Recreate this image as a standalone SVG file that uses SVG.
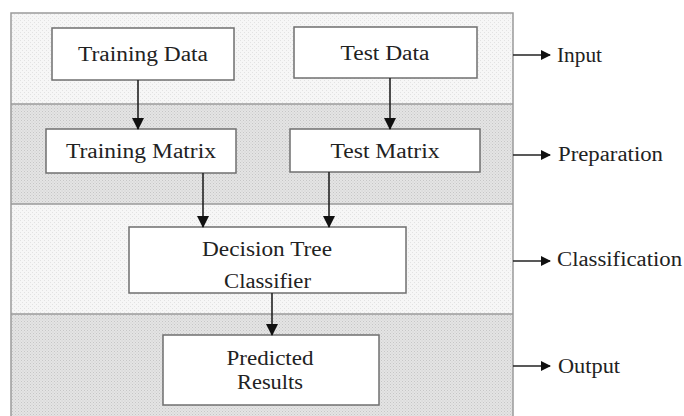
<svg xmlns="http://www.w3.org/2000/svg" width="684" height="416" viewBox="0 0 684 416">
<defs>
<pattern id="light" width="4" height="4" patternUnits="userSpaceOnUse">
<rect width="4" height="4" fill="#f6f6f6"/>
<rect x="0" y="0" width="1" height="1" fill="#e2e2e2"/>
<rect x="2" y="2" width="1" height="1" fill="#e2e2e2"/>
</pattern>
<pattern id="dark" width="3" height="3" patternUnits="userSpaceOnUse">
<rect width="3" height="3" fill="#e4e4e4"/>
<rect x="0" y="0" width="1" height="1" fill="#c6c6c6"/>
<rect x="1.5" y="1.5" width="1" height="1" fill="#cdcdcd"/>
</pattern>
<marker id="ah" markerWidth="10" markerHeight="10" refX="9" refY="5" orient="auto" markerUnits="userSpaceOnUse">
<path d="M0,0 L10,5 L0,10 Z" fill="#111"/>
</marker>
<marker id="ahv" markerWidth="12" markerHeight="12" refX="11" refY="6" orient="auto" markerUnits="userSpaceOnUse">
<path d="M0,0 L12,6 L0,12 Z" fill="#111"/>
</marker>
</defs>
<style>
.band-line{stroke:#9a9a9a;stroke-width:1.5;fill:none}
.box{fill:#ffffff;stroke:#6f6f6f;stroke-width:1.5}
.t{font-family:"Liberation Serif","Times New Roman",serif;font-size:20px;fill:#222;text-anchor:middle}
.lbl{font-family:"Liberation Serif","Times New Roman",serif;font-size:20px;fill:#222;text-anchor:start}
.conn{stroke:#222;stroke-width:1.6;fill:none}
</style>
<g id="bands">
<rect x="11" y="13" width="502" height="91" fill="url(#light)"/>
<rect x="11" y="104" width="502" height="100" fill="url(#dark)"/>
<rect x="11" y="204" width="502" height="110" fill="url(#light)"/>
<rect x="11" y="314" width="502" height="104" fill="url(#dark)"/>
<path class="band-line" d="M11,418 V13 H513 V418"/>
<line class="band-line" x1="11" y1="104" x2="513" y2="104"/>
<line class="band-line" x1="11" y1="204" x2="513" y2="204"/>
<line class="band-line" x1="11" y1="314" x2="513" y2="314"/>
</g>
<g id="training-data">
<rect class="box" x="52" y="28" width="182" height="52"/>
<text class="t" x="143" y="61" textLength="130" lengthAdjust="spacingAndGlyphs">Training Data</text>
</g>
<g id="test-data">
<rect class="box" x="294" y="27" width="183" height="51"/>
<text class="t" x="385" y="60" textLength="89" lengthAdjust="spacingAndGlyphs">Test Data</text>
</g>
<g id="training-matrix">
<rect class="box" x="46" y="129" width="190" height="44"/>
<text class="t" x="141" y="158" textLength="150" lengthAdjust="spacingAndGlyphs">Training Matrix</text>
</g>
<g id="test-matrix">
<rect class="box" x="290" y="129" width="190" height="43"/>
<text class="t" x="385" y="158" textLength="109" lengthAdjust="spacingAndGlyphs">Test Matrix</text>
</g>
<g id="decision-tree">
<rect class="box" x="129" y="227" width="277" height="66"/>
<text class="t" x="267" y="256" textLength="130" lengthAdjust="spacingAndGlyphs">Decision Tree</text>
<text class="t" x="267.5" y="288" textLength="87" lengthAdjust="spacingAndGlyphs">Classifier</text>
</g>
<g id="predicted-results">
<rect class="box" x="163" y="335" width="216" height="70"/>
<text class="t" x="270" y="365" textLength="87" lengthAdjust="spacingAndGlyphs">Predicted</text>
<text class="t" x="270" y="389" textLength="66" lengthAdjust="spacingAndGlyphs">Results</text>
</g>
<g id="stage-labels">
<text class="lbl" x="557" y="62" textLength="45" lengthAdjust="spacingAndGlyphs">Input</text>
<text class="lbl" x="558" y="161" textLength="105" lengthAdjust="spacingAndGlyphs">Preparation</text>
<text class="lbl" x="557" y="266" textLength="125" lengthAdjust="spacingAndGlyphs">Classification</text>
<text class="lbl" x="558" y="373" textLength="62" lengthAdjust="spacingAndGlyphs">Output</text>
</g>
<g id="connectors">
<line class="conn" x1="138" y1="80" x2="138" y2="129" marker-end="url(#ahv)"/>
<line class="conn" x1="390" y1="78" x2="390" y2="129" marker-end="url(#ahv)"/>
<line class="conn" x1="203" y1="173" x2="203" y2="227" marker-end="url(#ahv)"/>
<line class="conn" x1="329" y1="172" x2="329" y2="227" marker-end="url(#ahv)"/>
<line class="conn" x1="272" y1="293" x2="272" y2="335" marker-end="url(#ahv)"/>
<line class="conn" x1="513" y1="55" x2="550" y2="55" marker-end="url(#ah)"/>
<line class="conn" x1="513" y1="155" x2="550" y2="155" marker-end="url(#ah)"/>
<line class="conn" x1="513" y1="261" x2="550" y2="261" marker-end="url(#ah)"/>
<line class="conn" x1="513" y1="366" x2="550" y2="366" marker-end="url(#ah)"/>
</g>
</svg>
